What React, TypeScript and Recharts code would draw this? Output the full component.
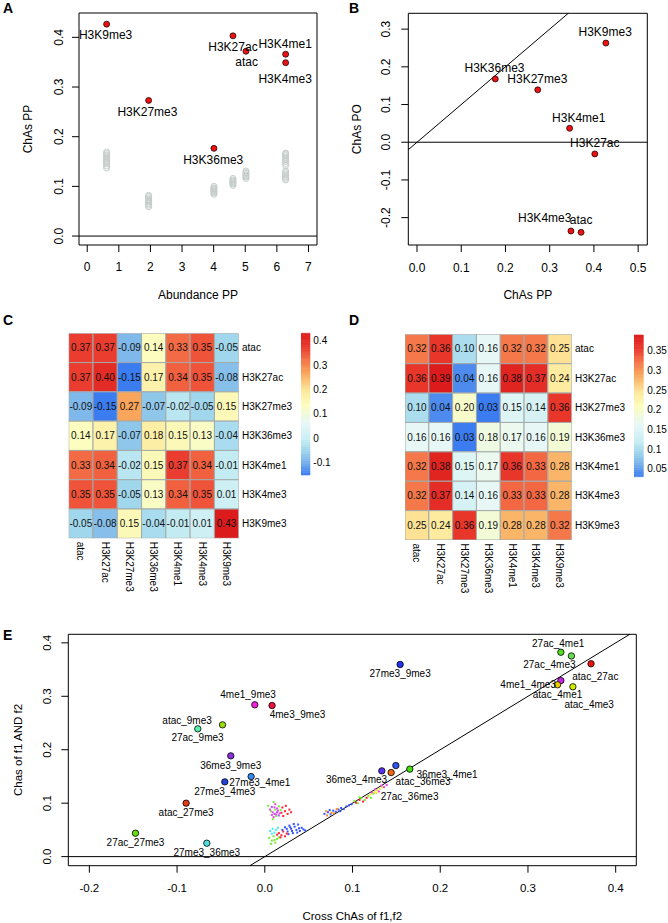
import React from 'react';
import { ScatterChart, Scatter, XAxis, YAxis, ReferenceLine, ReferenceArea, Label } from 'recharts';

const FONT = '"Liberation Sans", Arimo, Arial, Helvetica, sans-serif';

// ---------------- data ----------------
const marks = ['atac', 'H3K27ac', 'H3K27me3', 'H3K36me3', 'H3K4me1', 'H3K4me3', 'H3K9me3'];

// Panel A
const abundancePP = [5.022, 4.611, 1.943, 4.009, 6.278, 6.278, 0.614];
const chasPP_A = [0.372, 0.403, 0.273, 0.1765, 0.366, 0.349, 0.4266];
const nullPP_atac = [0.116, 0.119, 0.121, 0.123, 0.126, 0.128, 0.131];
const nullPP_H3K27ac = [0.102, 0.105, 0.107, 0.109, 0.111, 0.113, 0.116];
const nullPP_H3K27me3 = [0.059, 0.062, 0.065, 0.068, 0.070, 0.072, 0.074, 0.077, 0.080, 0.082];
const nullPP_H3K36me3 = [0.084, 0.087, 0.089, 0.091, 0.093, 0.095, 0.097, 0.100];
const nullPP_H3K4me1 = [0.142, 0.146, 0.150, 0.153, 0.156, 0.159, 0.162, 0.165, 0.167];
const nullPP_H3K4me3 = [0.113, 0.116, 0.119, 0.122, 0.125, 0.128, 0.131];
const nullPP_H3K9me3 = [0.137, 0.141, 0.145, 0.148, 0.150, 0.152, 0.155, 0.157, 0.160, 0.163, 0.166, 0.169];
const nullPP = [nullPP_atac, nullPP_H3K27ac, nullPP_H3K27me3, nullPP_H3K36me3, nullPP_H3K4me1, nullPP_H3K4me3, nullPP_H3K9me3];
const aTicksX = [0, 1, 2, 3, 4, 5, 6, 7];
const aTicksY = [0, 0.1, 0.2, 0.3, 0.4];

// Panel B
const chasPP_B = [0.371, 0.402, 0.273, 0.177, 0.345, 0.348, 0.427];
const chasPO_B = [-0.239, -0.031, 0.139, 0.168, 0.037, -0.2355, 0.263];
const bTicksX = [0, 0.1, 0.2, 0.3, 0.4, 0.5];
const bTicksY = [-0.2, -0.1, 0, 0.1, 0.2, 0.3];

// Panel C (ChAs, cross)
const chasC = [
  [0.37, 0.37, -0.09, 0.14, 0.33, 0.35, -0.05],
  [0.37, 0.40, -0.15, 0.17, 0.34, 0.35, -0.08],
  [-0.09, -0.15, 0.27, -0.07, -0.02, -0.05, 0.15],
  [0.14, 0.17, -0.07, 0.18, 0.15, 0.13, -0.04],
  [0.33, 0.34, -0.02, 0.15, 0.37, 0.34, -0.01],
  [0.35, 0.35, -0.05, 0.13, 0.34, 0.35, 0.01],
  [-0.05, -0.08, 0.15, -0.04, -0.01, 0.01, 0.43],
];
const cLegendTicks = [0.4, 0.3, 0.2, 0.1, 0, -0.1];

// Panel D (ChAs of f1 AND f2)
const chasD = [
  [0.32, 0.36, 0.10, 0.16, 0.32, 0.32, 0.25],
  [0.36, 0.39, 0.04, 0.16, 0.38, 0.37, 0.24],
  [0.10, 0.04, 0.20, 0.03, 0.15, 0.14, 0.36],
  [0.16, 0.16, 0.03, 0.18, 0.17, 0.16, 0.19],
  [0.32, 0.38, 0.15, 0.17, 0.36, 0.33, 0.28],
  [0.32, 0.37, 0.14, 0.16, 0.33, 0.33, 0.28],
  [0.25, 0.24, 0.36, 0.19, 0.28, 0.28, 0.32],
];
const dLegendTicks = [0.35, 0.3, 0.25, 0.2, 0.15, 0.1, 0.05];

// Panel E
const pairNames = ['27ac_27me3', 'atac_27me3', '27me3_36me3', '27me3_4me3', '27me3_4me1', '36me3_9me3', '27ac_9me3', 'atac_9me3', '4me1_9me3', '4me3_9me3', '27me3_9me3', '27ac_4me1', '27ac_4me3', 'atac_27ac', '4me1_4me3', 'atac_4me1', 'atac_4me3', '36me3_4me1', 'atac_36me3', '36me3_4me3', '27ac_36me3'];
const crossChas = [-0.1474, -0.0897, -0.0661, -0.0456, -0.0156, -0.0388, -0.0482, -0.0764, -0.0114, 0.0083, 0.1543, 0.3375, 0.3495, 0.3719, 0.3375, 0.3337, 0.3512, 0.1653, 0.1440, 0.1334, 0.1494];
const andChas = [0.0438, 0.1000, 0.0251, 0.1399, 0.1498, 0.1886, 0.2466, 0.2391, 0.2841, 0.2828, 0.3596, 0.3824, 0.3755, 0.3609, 0.3294, 0.3215, 0.3178, 0.1637, 0.1573, 0.1605, 0.1704];
const eTicksX = [-0.2, -0.1, 0, 0.1, 0.2, 0.3, 0.4];
const eTicksY = [0, 0.1, 0.2, 0.3, 0.4];

// null (permuted) pairs, by colour
const nullMagenta = [[0.006, 0.088], [0.009, 0.083], [0.011, 0.092], [0.013, 0.079], [0.008, 0.078], [0.015, 0.086], [0.012, 0.098], [0.017, 0.081], [0.010, 0.074], [0.014, 0.090], [0.126, 0.126], [0.130, 0.122], [0.133, 0.133], [0.136, 0.130], [0.139, 0.134], [0.122, 0.120]];
const nullGreen = [[0.004, 0.095], [0.007, 0.085], [0.010, 0.102], [0.013, 0.076], [0.016, 0.094], [0.009, 0.070], [0.012, 0.088], [0.018, 0.087], [0.005, 0.035], [0.008, 0.030], [0.010, 0.038], [0.012, 0.026], [0.014, 0.033], [0.007, 0.024], [0.016, 0.036], [0.011, 0.031], [0.102, 0.104], [0.106, 0.100], [0.110, 0.109], [0.114, 0.106], [0.118, 0.113], [0.121, 0.110], [0.124, 0.118], [0.108, 0.111]];
const nullRed = [[0.020, 0.092], [0.023, 0.085], [0.026, 0.080], [0.021, 0.076], [0.028, 0.088], [0.024, 0.095], [0.019, 0.082], [0.030, 0.083], [0.016, 0.044], [0.019, 0.040], [0.021, 0.047], [0.023, 0.038], [0.018, 0.036], [0.025, 0.043], [0.014, 0.041], [0.104, 0.101], [0.108, 0.106], [0.112, 0.103], [0.116, 0.110]];
const nullPurple = [[0.008, 0.093], [0.014, 0.083], [0.011, 0.080], [0.016, 0.077]];
const nullBlue = [[0.020, 0.050], [0.023, 0.055], [0.026, 0.047], [0.028, 0.058], [0.030, 0.052], [0.032, 0.044], [0.034, 0.056], [0.036, 0.050], [0.038, 0.060], [0.040, 0.048], [0.042, 0.054], [0.044, 0.051], [0.027, 0.042], [0.033, 0.061], [0.037, 0.045], [0.025, 0.052], [0.046, 0.049], [0.031, 0.048], [0.029, 0.055], [0.039, 0.053], [0.068, 0.080], [0.072, 0.083], [0.075, 0.079], [0.078, 0.086], [0.081, 0.084], [0.084, 0.088], [0.087, 0.091], [0.090, 0.089], [0.093, 0.094], [0.096, 0.096], [0.099, 0.098], [0.074, 0.087], [0.086, 0.085]];
const nullCyan = [[0.006, 0.048], [0.009, 0.052], [0.011, 0.045], [0.013, 0.050], [0.008, 0.043], [0.015, 0.054]];
const nullOrange = [[0.070, 0.085], [0.076, 0.082], [0.071, 0.077], [0.079, 0.081], [0.082, 0.089]];
const nullYellow = [[0.120, 0.116], [0.125, 0.121], [0.128, 0.124], [0.131, 0.127], [0.134, 0.130], [0.127, 0.119]];

// ---------------- styles ----------------
const pairColors = ['#66dd11', '#e23c12', '#55dddd', '#2244dd', '#3388ee', '#8833dd', '#99dd11', '#55eeaa', '#ee22dd', '#ee1144', '#2233ee', '#55dd22', '#66dd55', '#ee1111', '#cc22ee', '#eecc00', '#ccee00', '#44dd11', '#ee6611', '#5533ee', '#3355ee'];
const nullGroups: [number[][], string][] = [
  [nullBlue, '#3355ff'], [nullCyan, '#44eeee'], [nullGreen, '#77ee33'], [nullOrange, '#ff8822'],
  [nullRed, '#ff2233'], [nullPurple, '#aa55ee'], [nullYellow, '#eeee22'], [nullMagenta, '#ee44ee'],
];
const labelOffA: Record<string, [number, number]> = {
  H3K9me3: [-1, 10.7], H3K27ac: [0, 11], atac: [0.7, 11], H3K4me1: [-0.5, -10.7],
  H3K4me3: [-0.5, 16.3], H3K27me3: [-1.2, 11.3], H3K36me3: [-0.7, 11.7],
};
const labelOffB: Record<string, [number, number]> = {
  H3K9me3: [-0.7, -11], H3K36me3: [-0.8, -11.3], H3K27me3: [-0.4, -10.7], H3K4me1: [9.2, -10.7],
  H3K27ac: [0, -10.7], H3K4me3: [-26.2, -12.7], atac: [0, -12.3],
};
const labelOffE: Record<string, [number, number]> = {
  '27ac_27me3': [0, 9.4], 'atac_27me3': [0, 9], '27me3_36me3': [0, 9.4], '27me3_4me3': [0, 9.3],
  '27me3_4me1': [8.7, 5.6], '36me3_9me3': [0, 9.3], '27ac_9me3': [-25, 12.7], 'atac_9me3': [-10.7, -8.3],
  '4me1_9me3': [-6.7, -10.7], '4me3_9me3': [25.4, 9.3], '27me3_9me3': [0, 9.3], '27ac_4me1': [-2.7, -9],
  '27ac_4me3': [-22, 9], 'atac_27ac': [4.3, 12.7], '4me1_4me3': [-32.7, 3.6], 'atac_4me1': [0, 9.3],
  'atac_4me3': [16.3, 17.3], '36me3_4me1': [37.3, 5], 'atac_36me3': [32, 9.3], '36me3_4me3': [-25.3, 9],
  '27ac_36me3': [13.7, 31.3],
};

const HEAT_STOPS: [number, string][] = [
  [0, '#3b7cf0'], [0.1, '#7db6ea'], [0.17, '#9fd6ec'], [0.25, '#c7edf3'], [0.37, '#e8f8f6'],
  [0.5, '#fcfdbe'], [0.6, '#fde79a'], [0.72, '#f9a75c'], [0.83, '#f36a44'], [0.9, '#ea3b2e'], [1, '#dc1c1c'],
];
function hex2rgb(h: string) { return [1, 3, 5].map((i) => parseInt(h.slice(i, i + 2), 16)); }
function heatColor(t: number) {
  const tt = Math.max(0, Math.min(1, t));
  for (let i = 0; i < HEAT_STOPS.length - 1; i++) {
    const [t0, c0] = HEAT_STOPS[i];
    const [t1, c1] = HEAT_STOPS[i + 1];
    if (tt <= t1) {
      const f = (tt - t0) / (t1 - t0);
      const a = hex2rgb(c0), b = hex2rgb(c1);
      const m = a.map((v, k) => Math.round(v + (b[k] - v) * f));
      return `rgb(${m[0]},${m[1]},${m[2]})`;
    }
  }
  return HEAT_STOPS[HEAT_STOPS.length - 1][1];
}

// ---------------- helpers ----------------
const T = (x: number, y: number, s: string, size: number, extra: any = {}) => (
  <text x={x} y={y} fontSize={size} fontFamily={FONT} fill="#000" textAnchor="middle" dominantBaseline="central" {...extra}>{s}</text>
);
const xTick = (yc: number, fmt: (v: number) => string, size: number) => (p: any) =>
  T(p.x, yc, fmt(p.payload.value), size);
const yTickRot = (xc: number, fmt: (v: number) => string, size: number) => (p: any) =>
  T(xc, p.y, fmt(p.payload.value), size, { transform: `rotate(-90, ${xc}, ${p.y})` });
const f1 = (v: number) => v.toFixed(1);

const redDot = (p: any) => <circle cx={p.cx} cy={p.cy} r={3} fill="#ee1111" stroke="#000" strokeWidth={0.7} />;
const grayRing = (p: any) => <circle cx={p.cx} cy={p.cy} r={3} fill="none" stroke="#c5cdca" strokeWidth={1} />;
const markLabel = (off: Record<string, [number, number]>) => (p: any) => {
  const [dx, dy] = off[p.payload.name];
  return T(p.cx + dx, p.cy + dy, p.payload.name, 12);
};
const noShape = () => <g />;

// ---------------- Panel A ----------------
const PA = { w: 334, h: 306, left: 79, right: 317, top: 13, bottom: 245 };
const A_XD: [number, number] = [-0.26, 7.27];
const A_YD: [number, number] = [-0.018, 0.449];
function PanelA() {
  const pts = marks.map((m, i) => ({ name: m, x: abundancePP[i], y: chasPP_A[i] }));
  const grays = nullPP.flatMap((arr, i) => arr.map((y) => ({ x: abundancePP[i], y })));
  return (
    <ScatterChart width={PA.w} height={PA.h} margin={{ top: PA.top, right: PA.w - PA.right, bottom: 0, left: 0 }}>
      <XAxis type="number" dataKey="x" domain={A_XD} allowDataOverflow ticks={aTicksX} interval={0}
        height={PA.h - PA.bottom} tickSize={7} tickLine={{ stroke: '#000' }} axisLine={false}
        tick={xTick(PA.bottom + 21.7, (v) => String(v), 12)}>
        <Label content={() => T((PA.left + PA.right) / 2, PA.bottom + 50, 'Abundance PP', 12)} />
      </XAxis>
      <YAxis type="number" dataKey="y" domain={A_YD} allowDataOverflow ticks={aTicksY} interval={0}
        width={PA.left} tickSize={7} tickLine={{ stroke: '#000' }} axisLine={false}
        tick={yTickRot(59.5, f1, 12)}>
        <Label content={() => T(27.7, (PA.top + PA.bottom) / 2, 'ChAs PP', 12, { transform: `rotate(-90, 27.7, ${(PA.top + PA.bottom) / 2})` })} />
      </YAxis>
      <ReferenceArea x1={A_XD[0]} x2={A_XD[1]} y1={A_YD[0]} y2={A_YD[1]} fill="none" stroke="#000" strokeWidth={1} ifOverflow="visible" />
      <ReferenceLine y={0} stroke="#000" strokeWidth={1} />
      <Scatter data={grays} shape={grayRing} isAnimationActive={false} />
      <Scatter data={pts} shape={redDot} isAnimationActive={false} />
      <Scatter data={pts} shape={markLabel(labelOffA)} isAnimationActive={false} />
    </ScatterChart>
  );
}

// ---------------- Panel B ----------------
const PB = { w: 334, h: 306, left: 74.3, right: 313.3, top: 13.3, bottom: 245 };
const B_XD: [number, number] = [-0.0197, 0.5207];
const B_YD: [number, number] = [-0.2726, 0.342];
function PanelB() {
  const pts = marks.map((m, i) => ({ name: m, x: chasPP_B[i], y: chasPO_B[i] }));
  return (
    <ScatterChart width={PB.w} height={PB.h} margin={{ top: PB.top, right: PB.w - PB.right, bottom: 0, left: 0 }}>
      <XAxis type="number" dataKey="x" domain={B_XD} allowDataOverflow ticks={bTicksX} interval={0}
        height={PB.h - PB.bottom} tickSize={7} tickLine={{ stroke: '#000' }} axisLine={false}
        tick={xTick(PB.bottom + 22.5, f1, 12)}>
        <Label content={() => T((PB.left + PB.right) / 2, PB.bottom + 50, 'ChAs PP', 12)} />
      </XAxis>
      <YAxis type="number" dataKey="y" domain={B_YD} allowDataOverflow ticks={bTicksY} interval={0}
        width={PB.left} tickSize={7} tickLine={{ stroke: '#000' }} axisLine={false}
        tick={yTickRot(52.5, f1, 12)}>
        <Label content={() => T(23.3, (PB.top + PB.bottom) / 2, 'ChAs PO', 12, { transform: `rotate(-90, 23.3, ${(PB.top + PB.bottom) / 2})` })} />
      </YAxis>
      <ReferenceArea x1={B_XD[0]} x2={B_XD[1]} y1={B_YD[0]} y2={B_YD[1]} fill="none" stroke="#000" strokeWidth={1} ifOverflow="visible" />
      <ReferenceLine y={0} stroke="#000" strokeWidth={1} />
      <ReferenceLine segment={[{ x: B_XD[0], y: B_XD[0] }, { x: B_YD[1], y: B_YD[1] }]} stroke="#000" strokeWidth={1} ifOverflow="visible" />
      <Scatter data={pts} shape={redDot} isAnimationActive={false} />
      <Scatter data={pts} shape={markLabel(labelOffB)} isAnimationActive={false} />
    </ScatterChart>
  );
}

// ---------------- Heatmaps ----------------
type HBox = { w: number; h: number; left: number; right: number; top: number; bottom: number };
const cellTicks = [0.5, 1.5, 2.5, 3.5, 4.5, 5.5, 6.5];
function Heatmap({ matrix, box }: { matrix: number[][]; box: HBox }) {
  const flat = matrix.flat();
  const lo = Math.min(...flat), hi = Math.max(...flat);
  const cells = matrix.flatMap((row, r) => row.map((v, c) => ({ c: c + 0.5, r: r + 0.5, v })));
  const cw = (box.right - box.left) / 7;
  const ch = (box.bottom - box.top) / 7;
  const rectShape = (p: any) => (
    <rect x={p.cx - cw / 2} y={p.cy - ch / 2} width={cw} height={ch}
      fill={heatColor((p.payload.v - lo) / (hi - lo))} stroke="#a3aaaa" strokeWidth={1} />
  );
  const textShape = (p: any) => T(p.cx, p.cy, p.payload.v.toFixed(2), 10, { fill: '#111' });
  const axisW = 60, axisH = 55;
  return (
    <ScatterChart width={box.w} height={box.h}
      margin={{ top: box.top, left: box.left, right: box.w - box.right - axisW, bottom: box.h - box.bottom - axisH }}>
      <XAxis type="number" dataKey="c" domain={[0, 7]} allowDataOverflow ticks={cellTicks} interval={0}
        height={axisH} tickLine={false} axisLine={false}
        tick={(p: any) => {
          const y0 = box.bottom + 3.4;
          return <text x={p.x} y={y0} fontSize={10} fontFamily={FONT} fill="#000" textAnchor="start"
            dominantBaseline="central" transform={`rotate(90, ${p.x}, ${y0})`}>{marks[Math.floor(p.payload.value)]}</text>;
        }} />
      <YAxis type="number" dataKey="r" domain={[0, 7]} allowDataOverflow reversed orientation="right"
        ticks={cellTicks} interval={0} width={axisW} tickLine={false} axisLine={false}
        tick={(p: any) => T(box.right + 3.3, p.y, marks[Math.floor(p.payload.value)], 10, { textAnchor: 'start' })} />
      <Scatter data={cells} shape={rectShape} isAnimationActive={false} />
      <Scatter data={cells} shape={textShape} isAnimationActive={false} />
    </ScatterChart>
  );
}

function ColorBar({ matrix, ticks, box, labelX }: { matrix: number[][]; ticks: number[]; box: { w: number; h: number; top: number; bottom: number; barW: number }; labelX: number }) {
  const flat = matrix.flat();
  const lo = Math.min(...flat), hi = Math.max(...flat);
  const N = 60;
  const bands = Array.from({ length: N }, (_, i) => ({ y1: lo + ((hi - lo) * i) / N, y2: lo + ((hi - lo) * (i + 1)) / N, t: (i + 0.5) / N }));
  return (
    <ScatterChart width={box.w} height={box.h} margin={{ top: box.top, bottom: box.bottom, left: 0, right: 0 }}>
      <XAxis type="number" dataKey="x" domain={[0, 1]} allowDataOverflow hide />
      <YAxis type="number" dataKey="y" domain={[lo, hi]} allowDataOverflow orientation="right" width={box.w - box.barW}
        ticks={ticks} interval={0} tickLine={false} axisLine={false}
        tick={(p: any) => T(labelX, p.y, String(p.payload.value), 10, { textAnchor: 'start' })} />
      {bands.map((b, i) => (
        <ReferenceArea key={i} x1={0} x2={1} y1={b.y1} y2={b.y2} fill={heatColor(b.t)} fillOpacity={1}
          stroke={heatColor(b.t)} strokeWidth={0.6} ifOverflow="visible" />
      ))}
      <Scatter data={[{ x: 0.5, y: lo }]} shape={noShape} isAnimationActive={false} />
    </ScatterChart>
  );
}

// ---------------- Panel E ----------------
const PE = { w: 668, h: 343, left: 68.3, right: 636.3, top: 54.3, bottom: 285.7 };
const E_XD: [number, number] = [-0.224, 0.4235];
const E_YD: [number, number] = [-0.017, 0.416];
function PanelE() {
  const pts = pairNames.map((n, i) => ({ name: n, x: crossChas[i], y: andChas[i], color: pairColors[i] }));
  const ePoint = (p: any) => <circle cx={p.cx} cy={p.cy} r={3.2} fill={p.payload.color} stroke="#000" strokeWidth={0.8} />;
  const eLabel = (p: any) => {
    const [dx, dy] = labelOffE[p.payload.name];
    return T(p.cx + dx, p.cy + dy, p.payload.name, 10);
  };
  const midY = (PE.top + PE.bottom) / 2;
  return (
    <ScatterChart width={PE.w} height={PE.h} margin={{ top: PE.top, right: PE.w - PE.right, bottom: 0, left: 0 }}>
      <XAxis type="number" dataKey="x" domain={E_XD} allowDataOverflow ticks={eTicksX} interval={0}
        height={PE.h - PE.bottom} tickSize={7} tickLine={{ stroke: '#000' }} axisLine={false}
        tick={xTick(PE.bottom + 22.6, f1, 11.5)}>
        <Label content={() => T((PE.left + PE.right) / 2, PE.bottom + 50.5, 'Cross ChAs of f1,f2', 11.5)} />
      </XAxis>
      <YAxis type="number" dataKey="y" domain={E_YD} allowDataOverflow ticks={eTicksY} interval={0}
        width={PE.left} tickSize={7} tickLine={{ stroke: '#000' }} axisLine={false}
        tick={yTickRot(47.5, f1, 11.5)}>
        <Label content={() => T(18.3, midY, 'Chas of f1 AND f2', 11.5, { transform: `rotate(-90, 18.3, ${midY})` })} />
      </YAxis>
      <ReferenceArea x1={E_XD[0]} x2={E_XD[1]} y1={E_YD[0]} y2={E_YD[1]} fill="none" stroke="#000" strokeWidth={1} ifOverflow="visible" />
      <ReferenceLine y={0} stroke="#000" strokeWidth={1} />
      <ReferenceLine segment={[{ x: E_YD[0], y: E_YD[0] }, { x: E_YD[1], y: E_YD[1] }]} stroke="#000" strokeWidth={1} ifOverflow="visible" />
      {nullGroups.map(([arr, col], i) => (
        <Scatter key={i} data={arr.map(([x, y]) => ({ x, y }))} isAnimationActive={false}
          shape={(p: any) => <rect x={p.cx - 1} y={p.cy - 1} width={2} height={2} fill={col} />} />
      ))}
      <Scatter data={pts} shape={ePoint} isAnimationActive={false} />
      <Scatter data={pts} shape={eLabel} isAnimationActive={false} />
    </ScatterChart>
  );
}

const letter = (s: string, left: number, top: number) => (
  <div style={{ position: 'absolute', left, top, fontFamily: FONT, fontWeight: 'bold', fontSize: 14, lineHeight: '14px', color: '#000' }}>{s}</div>
);

export default function App() {
  return (
    <div style={{ position: 'absolute', left: 0, top: 0, width: 668, height: 923, background: '#fff', overflow: 'hidden' }}>
      <div style={{ position: 'absolute', left: 0, top: 300 }}>
        <Heatmap matrix={chasC} box={{ w: 334, h: 300, left: 68.7, right: 238.7, top: 33.3, bottom: 238.3 }} />
      </div>
      <div style={{ position: 'absolute', left: 334, top: 300 }}>
        <Heatmap matrix={chasD} box={{ w: 334, h: 300, left: 71, right: 237.7, top: 34.3, bottom: 240 }} />
      </div>
      <div style={{ position: 'absolute', left: 301, top: 325 }}>
        <ColorBar matrix={chasC} ticks={cLegendTicks} box={{ w: 50, h: 160, top: 8.3, bottom: 10, barW: 9 }} labelX={12.3} />
      </div>
      <div style={{ position: 'absolute', left: 634, top: 325 }}>
        <ColorBar matrix={chasD} ticks={dLegendTicks} box={{ w: 34, h: 160, top: 10, bottom: 8.3, barW: 9.3 }} labelX={13.3} />
      </div>
      <div style={{ position: 'absolute', left: 0, top: 580 }}><PanelE /></div>
      <div style={{ position: 'absolute', left: 0, top: 0 }}><PanelA /></div>
      <div style={{ position: 'absolute', left: 334, top: 0 }}><PanelB /></div>
      {letter('A', 3, 1)}
      {letter('B', 349, 1)}
      {letter('C', 3, 313)}
      {letter('D', 349, 313)}
      {letter('E', 3, 628)}
    </div>
  );
}
